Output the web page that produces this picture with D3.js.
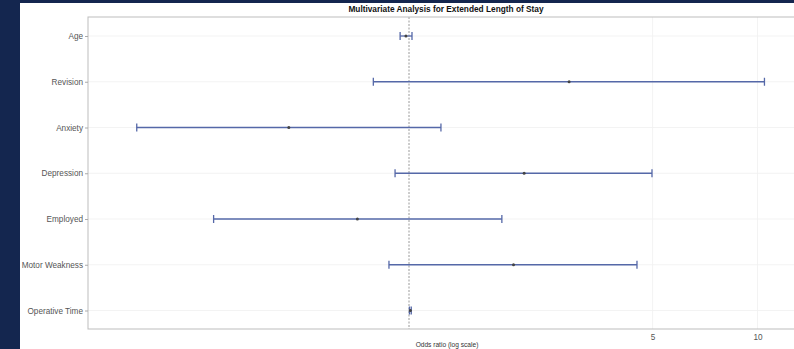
<!DOCTYPE html>
<html><head><meta charset="utf-8">
<script src="https://cdn.jsdelivr.net/npm/d3@7"></script>
<style>html,body{margin:0;padding:0;background:#14264f;overflow:hidden}</style>
</head><body>
<svg id="c" width="794" height="349"></svg>
<script>
const categories = ["Age","Revision","Anxiety","Depression","Employed","Motor Weakness","Operative Time"];
const oddsRatio = [0.98, 2.88, 0.452, 2.14, 0.711, 1.995, 1.009];
const ciLow     = [0.943, 0.79, 0.1655, 0.912, 0.275, 0.876, 1.003];
const ciHigh    = [1.02, 10.47, 1.235, 4.98, 1.847, 4.51, 1.015];
const xTicks = [5, 10];
const title = "Multivariate Analysis for Extended Length of Stay";
const xLabel = "Odds ratio (log scale)";

const svg = d3.select("#c");
svg.append("rect").attr("x",20).attr("y",3).attr("width",774).attr("height",346).attr("fill","#fff");

const L=88, R=806, T=17, B=329;
const x = d3.scaleLog().domain([Math.pow(10,(L-409)/348.5), Math.pow(10,(R-409)/348.5)]).range([L, R]);
const y = d3.scalePoint().domain(categories).range([36, 310.5]);

const g = svg.append("g");
g.selectAll(".hg").data(categories).join("line")
  .attr("x1",L).attr("x2",R).attr("y1",d=>y(d)).attr("y2",d=>y(d))
  .attr("stroke","#f0f0f0").attr("stroke-width",0.8);
g.selectAll(".vg").data(xTicks).join("line")
  .attr("x1",d=>x(d)).attr("x2",d=>x(d)).attr("y1",T).attr("y2",B)
  .attr("stroke","#f0f0f0").attr("stroke-width",0.8);
g.append("line").attr("x1",x(1)).attr("x2",x(1)).attr("y1",T).attr("y2",B)
  .attr("stroke","#9a9a9a").attr("stroke-width",1).attr("stroke-dasharray","2,1.5");

const col = "#5568a8";
const rows = categories.map((c,i)=>({c, or:oddsRatio[i], lo:ciLow[i], hi:ciHigh[i]}));
const eb = g.selectAll(".eb").data(rows).join("g");
eb.append("line").attr("x1",d=>x(d.lo)).attr("x2",d=>x(d.hi)).attr("y1",d=>y(d.c)).attr("y2",d=>y(d.c))
  .attr("stroke",col).attr("stroke-width",1.3);
eb.append("line").attr("x1",d=>x(d.lo)).attr("x2",d=>x(d.lo)).attr("y1",d=>y(d.c)-4).attr("y2",d=>y(d.c)+4)
  .attr("stroke",col).attr("stroke-width",1.3);
eb.append("line").attr("x1",d=>x(d.hi)).attr("x2",d=>x(d.hi)).attr("y1",d=>y(d.c)-4).attr("y2",d=>y(d.c)+4)
  .attr("stroke",col).attr("stroke-width",1.3);
eb.append("circle").attr("cx",d=>x(d.or)).attr("cy",d=>y(d.c)).attr("r",1.5).attr("fill","#444");

svg.append("rect").attr("x",L).attr("y",T).attr("width",R-L).attr("height",B-T)
  .attr("fill","none").attr("stroke","#bdbdbd").attr("stroke-width",1);

const ya = svg.append("g").attr("transform",`translate(${L},0)`)
  .call(d3.axisLeft(y).tickSize(3).tickPadding(2));
ya.select(".domain").remove();
ya.selectAll("line").attr("stroke","#aaa");
ya.selectAll("text").attr("fill","#555").style("font-family","Liberation Sans, Arial, sans-serif").style("font-size","8.2px");

const xa = svg.append("g").attr("transform",`translate(0,${B})`)
  .call(d3.axisBottom(x).tickValues(xTicks).tickFormat(d3.format("d")).tickSize(0).tickPadding(5));
xa.select(".domain").remove();
xa.selectAll("text").attr("fill","#555").style("font-family","Liberation Sans, Arial, sans-serif").style("font-size","8.2px");

svg.append("text").attr("x",446).attr("y",12).attr("text-anchor","middle")
  .style("font-family","Liberation Sans, Arial, sans-serif").style("font-size","8.3px").style("font-weight","bold")
  .attr("fill","#111").text(title);
svg.append("text").attr("x",447).attr("y",347).attr("text-anchor","middle")
  .style("font-family","Liberation Sans, Arial, sans-serif").style("font-size","6.6px")
  .attr("fill","#333").text(xLabel);
</script>
</body></html>
